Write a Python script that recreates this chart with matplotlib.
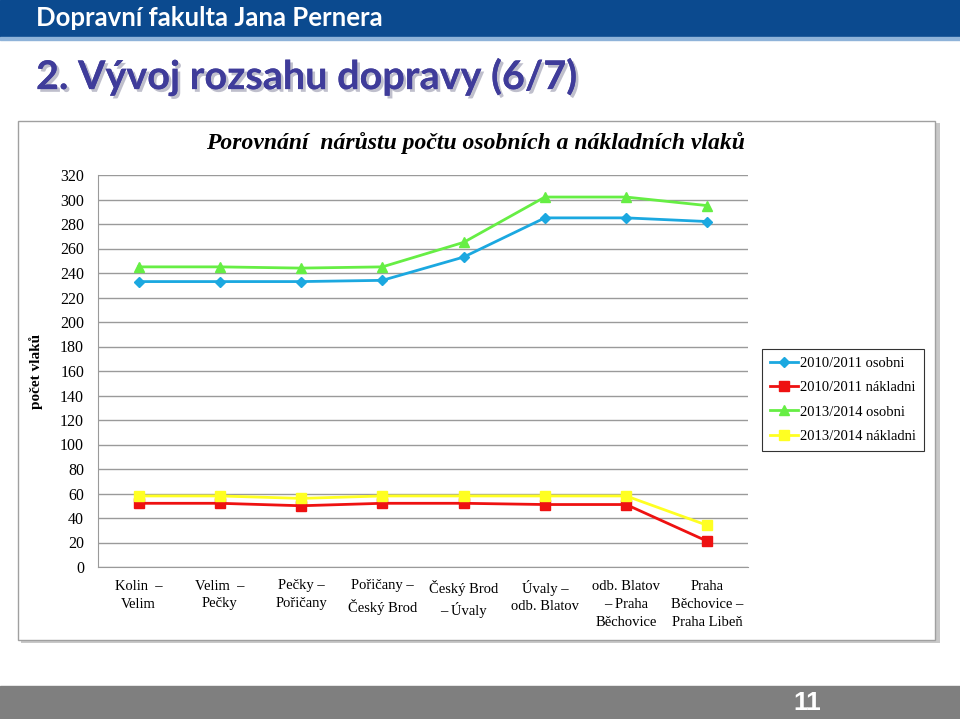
import matplotlib
matplotlib.use('Agg')
import matplotlib.pyplot as plt
import matplotlib.patheffects as pe
from matplotlib.patches import Rectangle

# data
useky = ['Kolin  –\nVelim', 'Velim  –\nPečky', 'Pečky –\nPořičany', 'Pořičany –\nČeský Brod',
         'Český Brod\n– Úvaly', 'Úvaly –\nodb. Blatov', 'odb. Blatov\n– Praha\nBěchovice',
         'Praha\nBěchovice –\nPraha Libeň']
osobni_2010 = [233, 233, 233, 234, 253, 285, 285, 282]
nakladni_2010 = [52, 52, 50, 52, 52, 51, 51, 21]
osobni_2013 = [245, 245, 244, 245, 265, 302, 302, 295]
nakladni_2013 = [58, 58, 56, 58, 58, 58, 58, 34]
y_ticks = list(range(0, 321, 20))

W, H = 960, 719
fig = plt.figure(figsize=(9.6, 7.19), dpi=100)

def fx(px):
    return px / W

def fy(py):
    return 1 - py / H

# hlavicka slajdu
fig.patches.append(Rectangle((0, fy(37)), 1, 37 / H, transform=fig.transFigure,
                             color='#0b4a8f', zorder=0))
fig.patches.append(Rectangle((0, fy(40)), 1, 3 / H, transform=fig.transFigure,
                             color='#8fb3d9', zorder=0))
fig.text(fx(36), fy(18), 'Dopravní fakulta Jana Pernera', color='white', fontsize=18.5,
         fontweight='bold', family='Lato', va='center')
fig.text(fx(36), fy(77), '2. Vývoj rozsahu dopravy (6/7)', color='#3f3c9a', fontsize=28.5,
         fontweight='bold', family='Lato', va='center',
         path_effects=[pe.withSimplePatchShadow(offset=(2, -2), shadow_rgbFace='#b0b0c0',
                                                alpha=0.8), pe.Normal()])

# paticka
fig.patches.append(Rectangle((0, 0), 1, 33 / H, transform=fig.transFigure,
                             color='#7f7f7f', zorder=0))
fig.text(fx(807), fy(703), '11', color='white', fontsize=19, fontweight='bold',
         family='Liberation Sans', ha='center', va='center')

# ramecek grafu se stinem
fig.patches.append(Rectangle((fx(21), fy(643)), fx(919), 520 / H, transform=fig.transFigure,
                             facecolor='#c8c8c8', edgecolor='none', zorder=0))
fig.patches.append(Rectangle((fx(18), fy(640)), fx(917), 519 / H, transform=fig.transFigure,
                             facecolor='white', edgecolor='#a0a0a0', linewidth=1, zorder=0))

ax = fig.add_axes([fx(98), fy(567), fx(650), (567 - 175) / H])
ax.set_zorder(2)
ax.patch.set_alpha(0)
x = range(len(useky))
ax.plot(x, osobni_2010, color='#1ba8e0', marker='D', markersize=5, linewidth=2,
        label='2010/2011 osobni', zorder=3)
ax.plot(x, nakladni_2010, color='#ee1111', marker='s', markersize=7, linewidth=2,
        label='2010/2011 nákladni', zorder=3)
ax.plot(x, osobni_2013, color='#66ee44', marker='^', markersize=7, linewidth=2,
        label='2013/2014 osobni', zorder=3)
ax.plot(x, nakladni_2013, color='#ffff22', marker='s', markersize=7, linewidth=2,
        label='2013/2014 nákladni', zorder=3)

ax.set_xlim(-0.5, 7.5)
ax.set_ylim(0, 320)
ax.set_yticks(y_ticks)
ax.set_xticks(list(x))
ax.set_xticklabels(useky, family='Liberation Serif', fontsize=10.5, linespacing=1.5)
for lab in ax.get_yticklabels():
    lab.set_family('Liberation Serif')
    lab.set_fontsize(11.5)
ax.tick_params(length=0, pad=10)
ax.tick_params(axis='x', pad=9)
ax.grid(axis='y', color='#9a9a9a', linewidth=1)
ax.set_axisbelow(True)
for s in ['top', 'right']:
    ax.spines[s].set_visible(False)
ax.spines['left'].set_color('#9a9a9a')
ax.spines['bottom'].set_color('#9a9a9a')

ax.set_ylabel('počet vlaků', family='Liberation Serif', fontweight='bold', fontsize=11,
              labelpad=12)
fig.text(fx(475), fy(143), 'Porovnání  nárůstu počtu osobních a nákladních vlaků',
         family='Liberation Serif', fontweight='bold', style='italic', fontsize=17,
         ha='center', va='center')

leg = ax.legend(loc='upper left', bbox_to_anchor=(fx(762), fy(349)),
                bbox_transform=fig.transFigure, frameon=True, fancybox=False,
                prop={'family': 'Liberation Serif', 'size': 10.5}, handlelength=1.9,
                handletextpad=0.15, borderpad=0.55, labelspacing=0.75, markerscale=1.0,
                borderaxespad=0)
leg.get_frame().set_edgecolor('black')
leg.get_frame().set_linewidth(0.8)

fig.savefig('out.png', dpi=100)
